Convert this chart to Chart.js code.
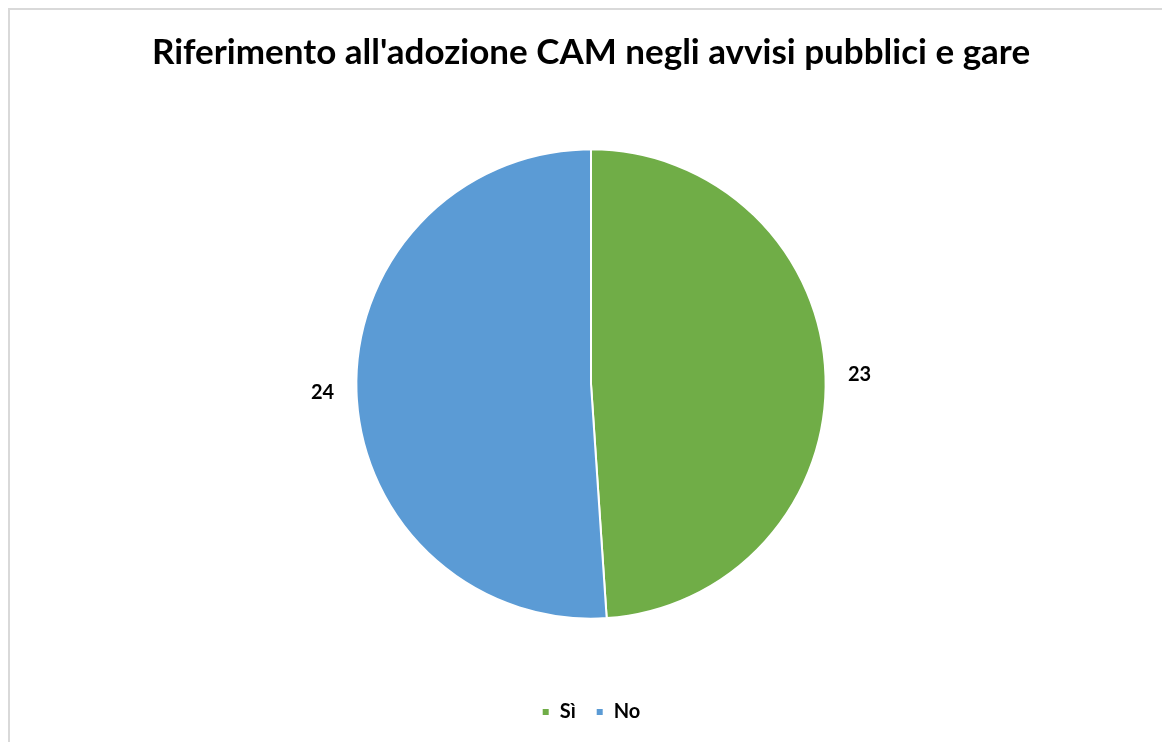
<!DOCTYPE html>
<html>
<head>
<meta charset="utf-8">
<script src="https://cdn.jsdelivr.net/npm/chart.js@4"></script>
<style>
  html, body { margin: 0; padding: 0; background: #fff; }
  body { width: 1162px; height: 742px; overflow: hidden; position: relative; }
  .frame {
    position: absolute; left: 8px; top: 8px; width: 1200px; height: 800px;
    border-left: 2px solid #d9d9d9; border-top: 2px solid #d9d9d9;
  }
  .wrap { position: absolute; left: 0; top: 0; width: 1162px; height: 742px; }
</style>
</head>
<body>
<div class="frame"></div>
<div class="wrap"><canvas id="pieChart" width="1162" height="742"></canvas></div>
<script>
const TITLE = "Riferimento all'adozione CAM negli avvisi pubblici e gare";
const categories = ["Sì", "No"];
const counts = [23, 24];
const colors = ["#70ad47", "#5b9bd5"];

const FONT = "Lato, 'Open Sans', sans-serif";

// etichette dei valori fuori dalla torta
const outsideLabels = {
  id: "outsideLabels",
  afterDatasetsDraw(chart) {
    const ctx = chart.ctx;
    const meta = chart.getDatasetMeta(0);
    ctx.save();
    ctx.font = "bold 20px " + FONT;
    ctx.fillStyle = "#000";
    ctx.textAlign = "center";
    ctx.textBaseline = "middle";
    meta.data.forEach((arc, i) => {
      const mid = (arc.startAngle + arc.endAngle) / 2;
      const r = arc.outerRadius * 1.145;
      ctx.fillText(String(counts[i]), arc.x + Math.cos(mid) * r, arc.y + Math.sin(mid) * r);
    });
    ctx.restore();
  }
};

new Chart(document.getElementById("pieChart"), {
  type: "pie",
  data: {
    labels: categories,
    datasets: [{
      data: counts,
      backgroundColor: colors,
      borderColor: "#ffffff",
      borderWidth: 2,
      radius: "79%"
    }]
  },
  options: {
    responsive: false,
    animation: false,
    layout: { padding: { left: 20, right: 0, top: 0, bottom: 10 } },
    plugins: {
      title: {
        display: true,
        text: TITLE,
        color: "#000",
        font: { family: FONT, size: 35, weight: "bold" },
        padding: { top: 32, bottom: 12 }
      },
      legend: {
        position: "bottom",
        labels: {
          color: "#000",
          font: { family: FONT, size: 20, weight: "bold" },
          boxWidth: 8,
          boxHeight: 8,
          padding: 20
        }
      },
      tooltip: { enabled: false }
    }
  },
  plugins: [outsideLabels]
});
</script>
</body>
</html>
